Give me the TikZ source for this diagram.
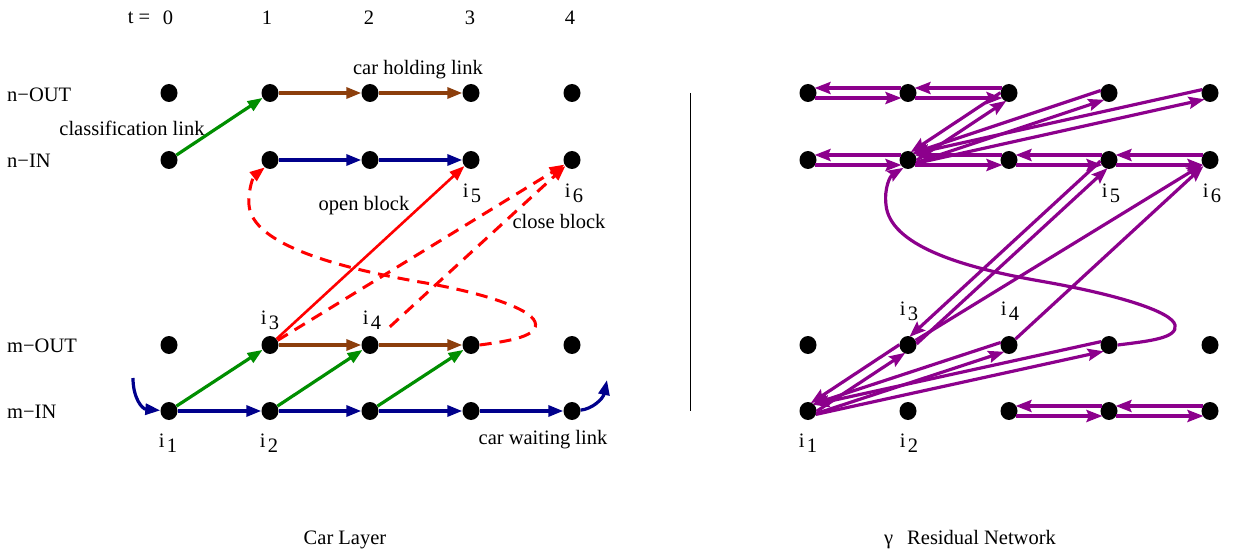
\documentclass[tikz,border=0pt]{standalone}
\usepackage{fontspec}
\setmainfont{Liberation Serif}
\usetikzlibrary{arrows.meta,shapes.geometric,calc}

\definecolor{lkgreen}{RGB}{0,142,0}
\definecolor{lkbrown}{RGB}{140,62,12}
\definecolor{lknavy}{RGB}{0,0,140}
\definecolor{lkred}{RGB}{255,0,0}
\definecolor{lkpurple}{RGB}{140,0,140}

% i with a lowered index, as used for the marked nodes
\newcommand\isub[1]{i\kern2.5pt\raisebox{-5pt}{#1}}

% residual pair: one arc each way, each shifted to its own right
\newcommand\respair[2]{%
  \draw[resarc] ($(#1)!5pt!-90:(#2)$) -- ($(#2)!5pt!90:(#1)$);
  \draw[resarc] ($(#2)!5pt!-90:(#1)$) -- ($(#1)!5pt!90:(#2)$);
}

\begin{document}
\begin{tikzpicture}[x=1pt,y=1pt,
  dot/.style={ellipse,fill=black,inner sep=0pt,minimum width=17pt,minimum height=18pt},
  lbl/.style={font=\fontsize{20.5}{24}\selectfont,inner sep=0pt},
  tri/.style={-{Triangle[length=15pt,width=11pt]}},
  grnlink/.style={draw=lkgreen,line width=3.2pt,tri},
  brnlink/.style={draw=lkbrown,line width=3.2pt,tri},
  nvylink/.style={draw=lknavy,line width=3.2pt,tri},
  redlink/.style={draw=lkred,line width=2.6pt,tri},
  reddash/.style={draw=lkred,line width=3pt,dash pattern=on 12pt off 8pt,tri},
  resline/.style={draw=lkpurple,line width=3.2pt,-{Stealth[length=16pt,width=12pt,inset=2.5pt]}},
  resarc/.style={resline,shorten <=7pt,shorten >=6.5pt},
]
\useasboundingbox (0,0) rectangle (1234,-553);

% ---------- time axis and row names ----------
\node[lbl] (tlab) at (139,-18) {t =};
\foreach \c/\x in {0/168,1/267,2/369,3/470,4/570}
  \node[lbl] (t\c) at (\x,-18) {\c};
\node[lbl,anchor=west] (rno) at (7,-95) {n−OUT};
\node[lbl,anchor=west] (rni) at (7,-161) {n−IN};
\node[lbl,anchor=west] (rmo) at (7,-346) {m−OUT};
\node[lbl,anchor=west] (rmi) at (7,-412) {m−IN};

% ---------- node grids ----------
\foreach \c/\x in {0/169,1/270,2/370,3/471,4/572}
  \foreach \r/\y in {no/93,ni/160,mo/345,mi/411}
    \node[dot] (L\c\r) at (\x,-\y) {};
\foreach \c/\x in {0/808,1/908,2/1009,3/1109,4/1210}
  \foreach \r/\y in {no/93,ni/160,mo/345,mi/411}
    \node[dot] (R\c\r) at (\x,-\y) {};

% ---------- car layer ----------
\draw[grnlink] (L0ni) -- (L1no);
\draw[brnlink] (L1no) -- (L2no);
\draw[brnlink] (L2no) -- (L3no);
\draw[nvylink] (L1ni) -- (L2ni);
\draw[nvylink] (L2ni) -- (L3ni);

\draw[grnlink] (L0mi) -- (L1mo);
\draw[grnlink] (L1mi) -- (L2mo);
\draw[grnlink] (L2mi) -- (L3mo);
\draw[brnlink] (L1mo) -- (L2mo);
\draw[brnlink] (L2mo) -- (L3mo);
\foreach \a/\b in {0/1,1/2,2/3,3/4}
  \draw[nvylink] (L\a mi) -- (L\b mi);

\coordinate (inS) at (133,-378);
\coordinate (outE) at (607,-380);
\draw[nvylink] (inS) .. controls (133,-398) and (142,-409) .. (L0mi);
\draw[nvylink] (L4mi) .. controls (592,-409) and (603,-399) .. (outE);

\draw[redlink] (L1mo) -- (L3ni);
\draw[reddash] (L1mo) -- (L4ni);
\draw[reddash,shorten <=18pt] (L2mo) -- (L4ni);
\draw[reddash] (L3mo.east) .. controls (510,-341) and (540,-336) .. (535,-322)
  .. controls (530,-308) and (480,-292) .. (420,-282)
  .. controls (340,-268) and (252,-245) .. (249,-205)
  .. controls (248,-188) and (254,-176) .. (L1ni.-125);

\node[lbl] (lhold) at (418,-70) {car holding link};
\node[lbl] (lclass) at (132,-128) {classification link};
\node[lbl] (lopen) at (364,-206) {open block};
\node[lbl] (lclose) at (559,-221) {close block};
\node[lbl] (lwait) at (543,-440) {car waiting link};

\node[lbl] (li1) at (168,-443) {\isub{1}};
\node[lbl] (li2) at (269,-443) {\isub{2}};
\node[lbl] (li3) at (270,-320) {\isub{3}};
\node[lbl] (li4) at (372,-320) {\isub{4}};
\node[lbl] (li5) at (472,-193) {\isub{5}};
\node[lbl] (li6) at (574,-193) {\isub{6}};

% ---------- separator ----------
\coordinate (sepT) at (690,-93);
\coordinate (sepB) at (690,-411);
\draw[line width=1pt] (sepT) -- (sepB);

% ---------- residual network ----------
\respair{R0no}{R1no}
\respair{R1no}{R2no}
\respair{R0ni}{R1ni}
\respair{R1ni}{R2ni}
\respair{R2ni}{R3ni}
\respair{R3ni}{R4ni}
\respair{R1ni}{R2no}
\respair{R1ni}{R3no}
\respair{R1ni}{R4no}
\respair{R1mo}{R3ni}
\respair{R0mi}{R1mo}
\respair{R0mi}{R2mo}
\respair{R0mi}{R3mo}
\respair{R2mi}{R3mi}
\respair{R3mi}{R4mi}
\draw[resline] (R1mo) -- (R4ni);
\draw[resline] (R2mo) -- (R4ni);
\draw[resline] (R3mo.east) .. controls (1150,-341) and (1178,-338) .. (1175,-325)
  .. controls (1172,-312) and (1120,-295) .. (1040,-281)
  .. controls (960,-267) and (890,-245) .. (886,-205)
  .. controls (884,-188) and (890,-176) .. (R1ni.-120);

\node[lbl] (ri1) at (808,-443) {\isub{1}};
\node[lbl] (ri2) at (909,-443) {\isub{2}};
\node[lbl] (ri3) at (909,-311) {\isub{3}};
\node[lbl] (ri4) at (1010,-311) {\isub{4}};
\node[lbl] (ri5) at (1111,-193) {\isub{5}};
\node[lbl] (ri6) at (1212,-193) {\isub{6}};

% ---------- captions ----------
\node[lbl] (capL) at (345,-540) {Car Layer};
\node[lbl] (capR) at (970,-540) {γ\kern14pt Residual Network};
\end{tikzpicture}
\end{document}
